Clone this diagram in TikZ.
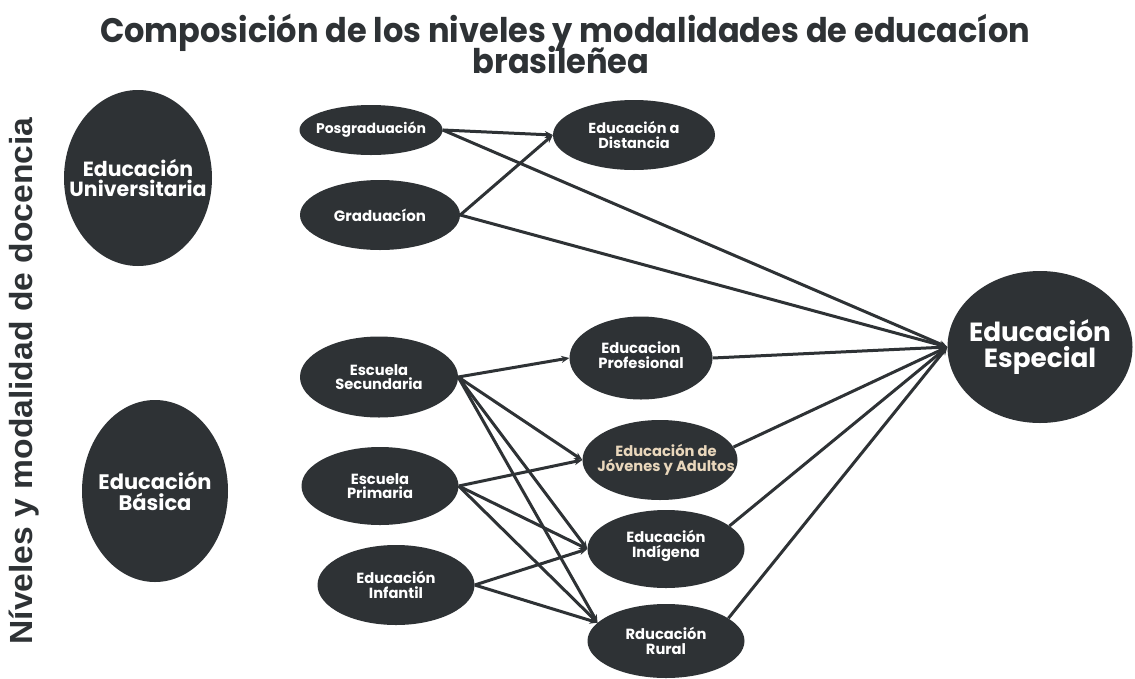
\documentclass[tikz,border=0pt]{standalone}
\usepackage{fontspec}
\setmainfont{Poppins}
\newfontfamily\lib{Liberation Sans}
\usetikzlibrary{shapes.geometric,arrows.meta,backgrounds}
\definecolor{dk}{HTML}{2E3235}
\definecolor{cream}{RGB}{233,215,188}
\definecolor{brk}{HTML}{555555}
\newcommand\myfs[1]{\fontsize{#1}{#1}\selectfont}
\begin{document}
\begin{tikzpicture}[x=1pt,y=-1pt,
  el/.style={ellipse, fill=dk, draw=none, inner sep=0pt},
  wt/.style={text=white, align=center, inner sep=0pt},
  arr/.style={draw=dk, line width=3pt, -{Stealth[length=8pt,width=7pt]}},
  brthin/.style={draw=brk, line width=1.5pt},
  brthick/.style={draw=dk, line width=2.4pt}]
\useasboundingbox[fill=white] (0,0) rectangle (1135,678);

% title and side text
\node[text=dk, font=\bfseries\fontsize{34}{34}\selectfont, inner sep=0pt, anchor=base] (title) at (565,42)
  {\resizebox{930pt}{\height}{Composición de los niveles y modalidades de educacíon}};
\node[text=dk, font=\bfseries\fontsize{34}{34}\selectfont, inner sep=0pt, anchor=base] (title2) at (561,73)
  {\resizebox{177pt}{\height}{brasileñea}};
\node[rotate=90, text=dk, font=\lib\bfseries\fontsize{32}{32}\selectfont, inner sep=0pt] (side) at (24,381)
  {\resizebox{527pt}{\height}{Níveles y modalidad de docencia}};

% nodes
\node[el, minimum width=148, minimum height=176, label={[wt,font=\bfseries\myfs{20.5}]center:{Educación\\Universitaria}}] (uni) at (138,178) {};
\node[el, minimum width=143, minimum height=50, label={[wt,font=\bfseries\myfs{14}]center:{Posgraduación}}] (posg) at (371,130) {};
\node[el, minimum width=160, minimum height=70, label={[wt,font=\bfseries\myfs{15}]center:{Graduacíon}}] (grad) at (380,215) {};
\node[el, minimum width=162, minimum height=70, label={[wt,font=\bfseries\myfs{14.5}]center:{Educación a\\Distancia}}] (dist) at (634,135) {};
\node[el, minimum width=185, minimum height=152, label={[wt,font=\bfseries\myfs{26.3}]center:{Educación\\Especial}}] (esp) at (1040,347) {};
\node[el, minimum width=146, minimum height=182, label={[wt,font=\bfseries\myfs{21}]center:{Educación\\Básica}}] (bas) at (155,491) {};
\node[el, minimum width=158, minimum height=81, label={[wt,font=\bfseries\myfs{14.7}]center:{Escuela\\Secundaria}}] (sec) at (379,377) {};
\node[el, minimum width=157, minimum height=78, label={[wt,font=\bfseries\myfs{14.7}]center:{Escuela\\Primaria}}] (pri) at (380,486) {};
\node[el, minimum width=157, minimum height=80, label={[wt,font=\bfseries\myfs{14.7}]center:{Educación\\Infantil}}] (inf) at (396,585) {};
\node[el, minimum width=143, minimum height=83, label={[wt,font=\bfseries\myfs{14.7},yshift=3pt]center:{Educacion\\Profesional}}] (prof) at (641,358) {};
\node[el, minimum width=155, minimum height=80, label={[wt,text=cream,font=\bfseries\myfs{14.7},xshift=6pt]center:{Educación de\\Jóvenes y Adultos}}] (jov) at (660,460) {};
\node[el, minimum width=157, minimum height=78, label={[wt,font=\bfseries\myfs{14.7},yshift=3pt]center:{Educación\\Indígena}}] (ind) at (666,549) {};
\node[el, minimum width=157, minimum height=74, label={[wt,font=\bfseries\myfs{14.7}]center:{Rducación\\Rural}}] (rur) at (666,641) {};

% bracket coordinates
\coordinate (b1t) at (256,100);
\coordinate (b1b) at (256,273);
\coordinate (b1m) at (256,192);
\coordinate (b1mt) at (233,192);
\coordinate (b1te) at (278,100);
\coordinate (b1be) at (278,273);
\coordinate (b2t) at (271,391);
\coordinate (b2b) at (271,580);

\begin{scope}[on background layer]
  \draw[brthin] (b1te) -- (b1t) -- (b1b) -- (b1be);
  \draw[brthin] (b1mt) -- (b1m);
  \draw[brthick] (pri.center -| bas.center) -- (pri.center);
  \draw[brthick] (b2t -| sec.center) -- (b2t) -- (b2b) -- (b2b -| inf.center);
\end{scope}

% connectors
\draw[arr] (posg.east) -- (dist.west);
\draw[arr] (grad.east) -- (dist.west);
\draw[arr] (posg.east) -- (esp.west);
\draw[arr] (grad.east) -- (esp.west);
\draw[arr] (sec.east) -- (prof.west);
\draw[arr] (sec.east) -- (jov.west);
\draw[arr] (sec.east) -- (ind.west);
\draw[arr] (sec.east) -- (rur.165);
\draw[arr] (pri.east) -- (jov.west);
\draw[arr] (pri.east) -- (ind.west);
\draw[arr] (pri.east) -- (rur.165);
\draw[arr] (inf.east) -- (ind.west);
\draw[arr] (inf.east) -- (rur.165);
\draw[arr] (prof.east) -- (esp.west);
\draw[arr] (jov.10) -- (esp.west);
\draw[arr] (ind.20) -- (esp.west);
\draw[arr] (rur.20) -- (esp.west);
\end{tikzpicture}
\end{document}
